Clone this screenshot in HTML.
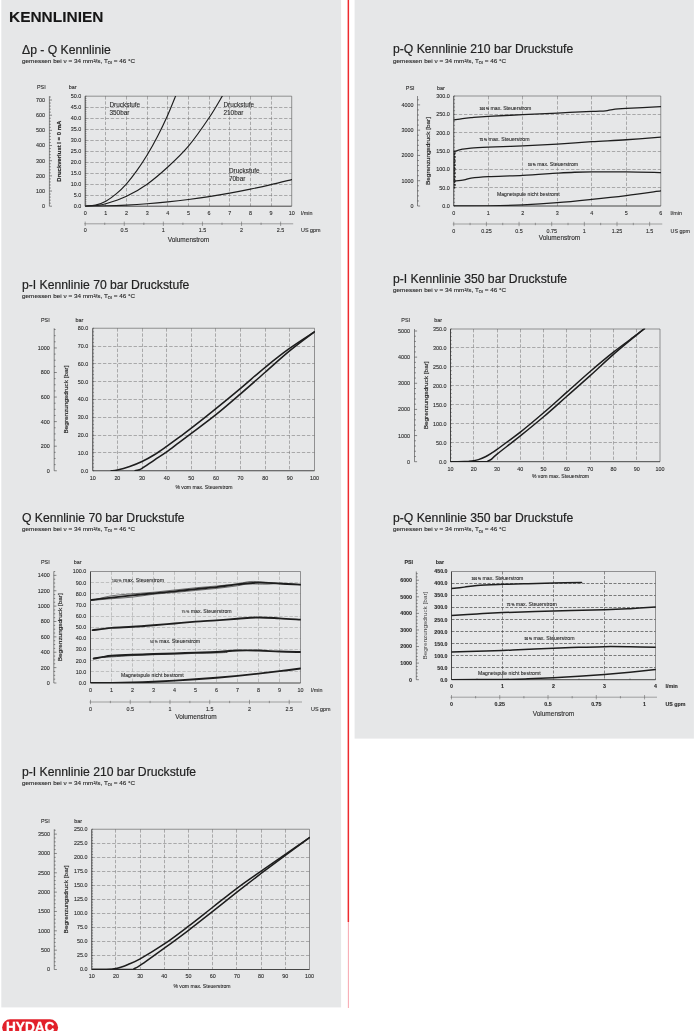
<!DOCTYPE html>
<html lang="de">
<head>
<meta charset="utf-8">
<title>Kennlinien</title>
<style>
html,body{margin:0;padding:0;background:#fff;}
body{width:700px;height:1031px;position:relative;overflow:hidden;font-family:"Liberation Sans",Arial,Helvetica,sans-serif;color:#222;}
h1{position:absolute;left:8.6px;top:8.9px;margin:0;font-size:15.2px;line-height:1;font-weight:bold;color:#161616;white-space:nowrap;transform:scaleX(1.017);transform-origin:0 50%;-webkit-text-stroke:0.1px #161616;}
h2{position:absolute;margin:0;font-size:12.2px;line-height:1;font-weight:normal;color:#222;white-space:nowrap;-webkit-text-stroke:0.18px #222;}
p.sub{position:absolute;margin:0;font-size:5.8px;line-height:1;color:#262626;white-space:nowrap;transform:scaleX(1.1);transform-origin:0 50%;-webkit-text-stroke:0.12px #262626;}
.sb{font-size:3.7px;position:relative;top:1.4px;}
svg#charts,svg#bg{position:absolute;left:0;top:0;}
svg text{font-family:"Liberation Sans",Arial,Helvetica,sans-serif;stroke:#2a2a2a;stroke-width:0.1px;}
#logo{position:absolute;left:1.5px;top:1018.5px;}
</style>
</head>
<body>
<svg id="bg" width="700" height="1031" viewBox="0 0 700 1031">
<rect x="1.3" y="-1" width="339.8" height="1008.4" fill="#e6e7e8"/>
<rect x="354.6" y="-1" width="339.3" height="739.6" fill="#e6e7e8"/>
<rect x="347.6" y="-1" width="1.5" height="923" fill="#ee2a2e"/>
<rect x="347.9" y="922" width="0.8" height="86" fill="#f58f9a"/>
</svg>
<h1>KENNLINIEN</h1>
<h2 style="left:22px;top:43.9px">&#916;p - Q Kennlinie</h2>
<p class="sub" style="left:22px;top:59px">gemessen bei &#957; = 34 mm&#178;/s, T<span class="sb">&#214;l</span> = 46 &#176;C</p>
<h2 style="left:22px;top:278.9px">p-I Kennlinie 70 bar Druckstufe</h2>
<p class="sub" style="left:22px;top:293.8px">gemessen bei &#957; = 34 mm&#178;/s, T<span class="sb">&#214;l</span> = 46 &#176;C</p>
<h2 style="left:22px;top:511.9px">Q Kennlinie 70 bar Druckstufe</h2>
<p class="sub" style="left:22px;top:526.7px">gemessen bei &#957; = 34 mm&#178;/s, T<span class="sb">&#214;l</span> = 46 &#176;C</p>
<h2 style="left:22px;top:765.9px">p-I Kennlinie 210 bar Druckstufe</h2>
<p class="sub" style="left:22px;top:780.5px">gemessen bei &#957; = 34 mm&#178;/s, T<span class="sb">&#214;l</span> = 46 &#176;C</p>
<h2 style="left:393px;top:42.9px">p-Q Kennlinie 210 bar Druckstufe</h2>
<p class="sub" style="left:393px;top:58.5px">gemessen bei &#957; = 34 mm&#178;/s, T<span class="sb">&#214;l</span> = 46 &#176;C</p>
<h2 style="left:393px;top:272.9px">p-I Kennlinie 350 bar Druckstufe</h2>
<p class="sub" style="left:393px;top:287.6px">gemessen bei &#957; = 34 mm&#178;/s, T<span class="sb">&#214;l</span> = 46 &#176;C</p>
<h2 style="left:393px;top:511.9px">p-Q Kennlinie 350 bar Druckstufe</h2>
<p class="sub" style="left:393px;top:527.2px">gemessen bei &#957; = 34 mm&#178;/s, T<span class="sb">&#214;l</span> = 46 &#176;C</p>
<svg id="charts" width="700" height="1031" viewBox="0 0 700 1031">
<g id="c1">
<clipPath id="cpc1"><rect x="85.2" y="95.9" width="206.8" height="110.6"/></clipPath>
<path d="M85.2 195.5H291.7M85.2 184.5H291.7M85.2 173.5H291.7M85.2 162.5H291.7M85.2 151.5H291.7M85.2 140.5H291.7M85.2 129.5H291.7M85.2 118.5H291.7M85.2 107.5H291.7M105.5 96.2V206.2M126.5 96.2V206.2M147.5 96.2V206.2M167.5 96.2V206.2M188.5 96.2V206.2M209.5 96.2V206.2M229.5 96.2V206.2M250.5 96.2V206.2M271.5 96.2V206.2" fill="none" stroke="#767676" stroke-width="0.55" stroke-dasharray="3.4 1.7"/>
<path d="M85.2 96.2H291.7V206.2" fill="none" stroke="#555" stroke-width="0.6"/>
<path d="M85.2 96.2V206.2H291.7" fill="none" stroke="#333" stroke-width="0.9"/>
<path d="M85.2 206.2h1.3M85.2 204h1.3M85.2 201.8h1.3M85.2 199.6h1.3M85.2 197.4h1.3M85.2 195.2h1.3M85.2 193h1.3M85.2 190.8h1.3M85.2 188.6h1.3M85.2 186.4h1.3M85.2 184.2h1.3M85.2 182h1.3M85.2 179.8h1.3M85.2 177.6h1.3M85.2 175.4h1.3M85.2 173.2h1.3M85.2 171h1.3M85.2 168.8h1.3M85.2 166.6h1.3M85.2 164.4h1.3M85.2 162.2h1.3M85.2 160h1.3M85.2 157.8h1.3M85.2 155.6h1.3M85.2 153.4h1.3M85.2 151.2h1.3M85.2 149h1.3M85.2 146.8h1.3M85.2 144.6h1.3M85.2 142.4h1.3M85.2 140.2h1.3M85.2 138h1.3M85.2 135.8h1.3M85.2 133.6h1.3M85.2 131.4h1.3M85.2 129.2h1.3M85.2 127h1.3M85.2 124.8h1.3M85.2 122.6h1.3M85.2 120.4h1.3M85.2 118.2h1.3M85.2 116h1.3M85.2 113.8h1.3M85.2 111.6h1.3M85.2 109.4h1.3M85.2 107.2h1.3M85.2 105h1.3M85.2 102.8h1.3M85.2 100.6h1.3M85.2 98.4h1.3M85.2 96.2h1.3" fill="none" stroke="#333" stroke-width="0.45"/>
<g font-size="5.4" text-anchor="end" fill="#2a2a2a">
<text x="81.2" y="208.14">0.0</text>
<text x="81.2" y="197.14">5.0</text>
<text x="81.2" y="186.14">10.0</text>
<text x="81.2" y="175.14">15.0</text>
<text x="81.2" y="164.14">20.0</text>
<text x="81.2" y="153.14">25.0</text>
<text x="81.2" y="142.14">30.0</text>
<text x="81.2" y="131.14">35.0</text>
<text x="81.2" y="120.14">40.0</text>
<text x="81.2" y="109.14">45.0</text>
<text x="81.2" y="98.14">50.0</text>
<text x="45.1" y="208.14">0</text>
<text x="45.1" y="192.98">100</text>
<text x="45.1" y="177.81">200</text>
<text x="45.1" y="162.64">300</text>
<text x="45.1" y="147.47">400</text>
<text x="45.1" y="132.3">500</text>
<text x="45.1" y="117.13">600</text>
<text x="45.1" y="101.96">700</text>
</g>
<path d="M49.4 96.2V206.2M49.4 206.2h2.6M49.4 203.17h1.4M49.4 200.13h1.4M49.4 197.1h1.4M49.4 194.07h1.4M49.4 191.03h2.6M49.4 188h1.4M49.4 184.96h1.4M49.4 181.93h1.4M49.4 178.9h1.4M49.4 175.86h2.6M49.4 172.83h1.4M49.4 169.8h1.4M49.4 166.76h1.4M49.4 163.73h1.4M49.4 160.69h2.6M49.4 157.66h1.4M49.4 154.63h1.4M49.4 151.59h1.4M49.4 148.56h1.4M49.4 145.53h2.6M49.4 142.49h1.4M49.4 139.46h1.4M49.4 136.43h1.4M49.4 133.39h1.4M49.4 130.36h2.6M49.4 127.32h1.4M49.4 124.29h1.4M49.4 121.26h1.4M49.4 118.22h1.4M49.4 115.19h2.6M49.4 112.16h1.4M49.4 109.12h1.4M49.4 106.09h1.4M49.4 103.05h1.4M49.4 100.02h2.6M49.4 96.99h1.4" fill="none" stroke="#333" stroke-width="0.55"/>
<g font-size="5.4" fill="#2a2a2a">
<text x="37" y="88.94">PSI</text>
<text x="68.8" y="88.94">bar</text>
</g>
<text transform="translate(61.1 151.2) rotate(-90)" font-size="5.94" text-anchor="middle" fill="#1c1c1c" style="stroke-width:0.16px" font-weight="bold">Druckverlust I = 0 mA</text>
<g font-size="5.4" text-anchor="middle" fill="#2a2a2a">
<text x="85.2" y="214.94">0</text>
<text x="105.85" y="214.94">1</text>
<text x="126.5" y="214.94">2</text>
<text x="147.15" y="214.94">3</text>
<text x="167.8" y="214.94">4</text>
<text x="188.45" y="214.94">5</text>
<text x="209.1" y="214.94">6</text>
<text x="229.75" y="214.94">7</text>
<text x="250.4" y="214.94">8</text>
<text x="271.05" y="214.94">9</text>
<text x="291.7" y="214.94">10</text>
</g>
<text x="301" y="214.94" font-size="5.4" fill="#2a2a2a">l/min</text>
<path d="M84.2 223.8H293.2M85.2 221.6v4.4M104.74 222.6v2.4M124.28 221.6v4.4M143.83 222.6v2.4M163.37 221.6v4.4M182.91 222.6v2.4M202.45 221.6v4.4M222 222.6v2.4M241.54 221.6v4.4M261.08 222.6v2.4M280.62 221.6v4.4" fill="none" stroke="#555" stroke-width="0.5"/>
<g font-size="5.4" text-anchor="middle" fill="#2a2a2a"><text x="85.2" y="231.94">0</text><text x="124.28" y="231.94">0.5</text><text x="163.37" y="231.94">1</text><text x="202.45" y="231.94">1.5</text><text x="241.54" y="231.94">2</text><text x="280.62" y="231.94">2.5</text></g>
<text x="301" y="231.94" font-size="5.4" fill="#2a2a2a">US gpm</text>
<text x="188.5" y="241.94" font-size="6.5" text-anchor="middle" fill="#2a2a2a">Volumenstrom</text>
<g clip-path="url(#cpc1)" fill="none" stroke="#1e1e1e" stroke-linecap="round" stroke-linejoin="round">
<path d="M85.2 206.2 C86.92 206.02 92.08 205.94 95.53 205.1 C98.97 204.26 102.41 203.01 105.85 201.14 C109.29 199.27 112.73 196.78 116.17 193.88 C119.62 190.98 123.06 187.65 126.5 183.76 C129.94 179.87 133.38 175.36 136.82 170.56 C140.27 165.76 143.71 160.62 147.15 154.94 C150.59 149.26 154.03 143.13 157.47 136.46 C160.92 129.79 164.7 121.83 167.8 114.9 C170.9 107.97 174.68 98.22 176.06 94.88" stroke-width="1.15"/>
<path d="M85.2 206.2 C86.92 206.09 92.08 205.94 95.53 205.54 C98.97 205.14 100.69 205.32 105.85 203.78 C111.01 202.24 119.62 199.56 126.5 196.3 C133.38 193.04 140.27 189.08 147.15 184.2 C154.03 179.32 160.92 173.38 167.8 167.04 C174.68 160.7 181.57 154.35 188.45 146.14 C195.33 137.93 203.39 126.23 209.1 117.76 C214.81 109.29 220.46 99.06 222.73 95.32" stroke-width="1.15"/>
<path d="M85.2 206.2 C88.64 206.16 98.97 206.11 105.85 205.93 C112.73 205.76 119.62 205.49 126.5 205.14 C133.38 204.78 140.27 204.34 147.15 203.8 C154.03 203.27 160.92 202.65 167.8 201.94 C174.68 201.23 181.57 200.43 188.45 199.54 C195.33 198.66 202.22 197.68 209.1 196.62 C215.98 195.55 222.87 194.4 229.75 193.16 C236.63 191.91 243.52 190.58 250.4 189.16 C257.28 187.74 264.17 186.24 271.05 184.64 C277.93 183.04 288.26 180.42 291.7 179.58" stroke-width="1.15"/>
</g>
<text x="109.5" y="107.3" font-size="6.4" fill="#2a2a2a">Druckstufe</text>
<text x="109.5" y="114.7" font-size="6.4" fill="#2a2a2a">350bar</text>
<text x="223.5" y="107.3" font-size="6.4" fill="#2a2a2a">Druckstufe</text>
<text x="223.5" y="114.7" font-size="6.4" fill="#2a2a2a">210bar</text>
<text x="229" y="173.3" font-size="6.4" fill="#2a2a2a">Druckstufe</text>
<text x="229" y="180.7" font-size="6.4" fill="#2a2a2a">70bar</text>
</g>
<g id="c2">
<clipPath id="cpc2"><rect x="92.75" y="327.95" width="222.05" height="143.1"/></clipPath>
<path d="M92.75 452.5H314.5M92.75 435.5H314.5M92.75 417.5H314.5M92.75 399.5H314.5M92.75 381.5H314.5M92.75 363.5H314.5M92.75 346.5H314.5M117.5 328.25V470.75M142.5 328.25V470.75M166.5 328.25V470.75M191.5 328.25V470.75M215.5 328.25V470.75M240.5 328.25V470.75M265.5 328.25V470.75M289.5 328.25V470.75" fill="none" stroke="#767676" stroke-width="0.55" stroke-dasharray="3.4 1.7"/>
<path d="M92.75 328.25H314.5V470.75" fill="none" stroke="#555" stroke-width="0.6"/>
<path d="M92.75 328.25V470.75H314.5" fill="none" stroke="#333" stroke-width="0.9"/>
<path d="M92.75 470.75h1.3M92.75 467.19h1.3M92.75 463.62h1.3M92.75 460.06h1.3M92.75 456.5h1.3M92.75 452.94h1.3M92.75 449.38h1.3M92.75 445.81h1.3M92.75 442.25h1.3M92.75 438.69h1.3M92.75 435.12h1.3M92.75 431.56h1.3M92.75 428h1.3M92.75 424.44h1.3M92.75 420.88h1.3M92.75 417.31h1.3M92.75 413.75h1.3M92.75 410.19h1.3M92.75 406.62h1.3M92.75 403.06h1.3M92.75 399.5h1.3M92.75 395.94h1.3M92.75 392.38h1.3M92.75 388.81h1.3M92.75 385.25h1.3M92.75 381.69h1.3M92.75 378.12h1.3M92.75 374.56h1.3M92.75 371h1.3M92.75 367.44h1.3M92.75 363.88h1.3M92.75 360.31h1.3M92.75 356.75h1.3M92.75 353.19h1.3M92.75 349.62h1.3M92.75 346.06h1.3M92.75 342.5h1.3M92.75 338.94h1.3M92.75 335.38h1.3M92.75 331.81h1.3M92.75 328.25h1.3" fill="none" stroke="#333" stroke-width="0.45"/>
<g font-size="5.4" text-anchor="end" fill="#2a2a2a">
<text x="88.35" y="472.69">0.0</text>
<text x="88.35" y="454.88">10.0</text>
<text x="88.35" y="437.07">20.0</text>
<text x="88.35" y="419.26">30.0</text>
<text x="88.35" y="401.44">40.0</text>
<text x="88.35" y="383.63">50.0</text>
<text x="88.35" y="365.82">60.0</text>
<text x="88.35" y="348.01">70.0</text>
<text x="88.35" y="330.19">80.0</text>
<text x="49.8" y="472.69">0</text>
<text x="49.8" y="448.13">200</text>
<text x="49.8" y="423.57">400</text>
<text x="49.8" y="399.01">600</text>
<text x="49.8" y="374.44">800</text>
<text x="49.8" y="349.88">1000</text>
</g>
<path d="M54.2 328.25V470.75M54.2 470.75h2.6M54.2 464.61h1.4M54.2 458.47h1.4M54.2 452.33h1.4M54.2 446.19h2.6M54.2 440.05h1.4M54.2 433.91h1.4M54.2 427.77h1.4M54.2 421.62h2.6M54.2 415.48h1.4M54.2 409.34h1.4M54.2 403.2h1.4M54.2 397.06h2.6M54.2 390.92h1.4M54.2 384.78h1.4M54.2 378.64h1.4M54.2 372.5h2.6M54.2 366.36h1.4M54.2 360.22h1.4M54.2 354.08h1.4M54.2 347.94h2.6M54.2 341.8h1.4M54.2 335.66h1.4M54.2 329.52h1.4" fill="none" stroke="#333" stroke-width="0.55"/>
<g font-size="5.4" fill="#2a2a2a">
<text x="41" y="321.94">PSI</text>
<text x="75.5" y="321.94">bar</text>
</g>
<text transform="translate(68.32 399.5) rotate(-90)" font-size="6" text-anchor="middle" fill="#1c1c1c" style="stroke-width:0.16px" textLength="68" lengthAdjust="spacingAndGlyphs">Begrenzungsdruck [bar]</text>
<g font-size="5.4" text-anchor="middle" fill="#2a2a2a">
<text x="92.75" y="479.54">10</text>
<text x="117.39" y="479.54">20</text>
<text x="142.03" y="479.54">30</text>
<text x="166.67" y="479.54">40</text>
<text x="191.31" y="479.54">50</text>
<text x="215.94" y="479.54">60</text>
<text x="240.58" y="479.54">70</text>
<text x="265.22" y="479.54">80</text>
<text x="289.86" y="479.54">90</text>
<text x="314.5" y="479.54">100</text>
</g>
<text x="204" y="488.84" font-size="5.1" text-anchor="middle" fill="#2a2a2a">% vom max. Steuerstrom</text>
<g clip-path="url(#cpc2)" fill="none" stroke="#1e1e1e" stroke-linecap="round" stroke-linejoin="round">
<path d="M111.23 470.75 C112.26 470.63 114.31 470.75 117.39 470.04 C120.47 469.33 125.6 467.9 129.71 466.48 C133.81 465.05 137.92 463.45 142.03 461.49 C146.13 459.53 150.24 457.24 154.35 454.72 C158.45 452.2 162.56 449.23 166.67 446.35 C170.77 443.47 174.88 440.47 178.99 437.44 C183.09 434.41 185.15 432.99 191.31 428.18 C197.47 423.37 207.73 415.23 215.94 408.58 C224.16 401.93 232.37 395.17 240.58 388.28 C248.8 381.39 257.01 373.94 265.22 367.26 C273.44 360.58 281.65 354.11 289.86 348.2 C298.07 342.29 310.39 334.54 314.5 331.81" stroke-width="1.6"/>
<path d="M135.13 470.75 C135.66 470.63 137.18 470.42 138.33 470.04 C139.48 469.65 139.36 470.1 142.03 468.43 C144.7 466.77 150.24 462.82 154.35 460.06 C158.45 457.3 162.56 454.78 166.67 451.87 C170.77 448.96 174.88 445.69 178.99 442.61 C183.09 439.52 185.15 438 191.31 433.34 C197.47 428.68 207.73 421.23 215.94 414.64 C224.16 408.05 232.37 400.87 240.58 393.8 C248.8 386.73 257.01 379.43 265.22 372.25 C273.44 365.06 281.65 357.43 289.86 350.69 C298.07 343.95 310.39 334.96 314.5 331.81" stroke-width="1.6"/>
</g>
</g>
<g id="c3">
<clipPath id="cpc3"><rect x="90.5" y="571.2" width="210.3" height="112.1"/></clipPath>
<path d="M90.5 671.5H300.5M90.5 660.5H300.5M90.5 649.5H300.5M90.5 638.5H300.5M90.5 627.5H300.5M90.5 616.5H300.5M90.5 604.5H300.5M90.5 593.5H300.5M90.5 582.5H300.5M111.5 571.5V683M132.5 571.5V683M153.5 571.5V683M174.5 571.5V683M195.5 571.5V683M216.5 571.5V683M237.5 571.5V683M258.5 571.5V683M279.5 571.5V683" fill="none" stroke="#989898" stroke-width="0.5" stroke-dasharray="3.4 1.7"/>
<path d="M90.5 571.5H300.5V683" fill="none" stroke="#555" stroke-width="0.6"/>
<path d="M90.5 571.5V683H300.5" fill="none" stroke="#333" stroke-width="0.9"/>
<g font-size="5.4" text-anchor="end" fill="#2a2a2a">
<text x="86.3" y="684.94">0.0</text>
<text x="86.3" y="673.79">10.0</text>
<text x="86.3" y="662.64">20.0</text>
<text x="86.3" y="651.49">30.0</text>
<text x="86.3" y="640.34">40.0</text>
<text x="86.3" y="629.19">50.0</text>
<text x="86.3" y="618.04">60.0</text>
<text x="86.3" y="606.89">70.0</text>
<text x="86.3" y="595.74">80.0</text>
<text x="86.3" y="584.59">90.0</text>
<text x="86.3" y="573.44">100.0</text>
<text x="49.8" y="684.94">0</text>
<text x="49.8" y="669.57">200</text>
<text x="49.8" y="654.19">400</text>
<text x="49.8" y="638.82">600</text>
<text x="49.8" y="623.44">800</text>
<text x="49.8" y="608.07">1000</text>
<text x="49.8" y="592.69">1200</text>
<text x="49.8" y="577.32">1400</text>
</g>
<path d="M53.8 571.5V683M53.8 683h2.6M53.8 679.16h1.4M53.8 675.31h1.4M53.8 671.47h1.4M53.8 667.62h2.6M53.8 663.78h1.4M53.8 659.94h1.4M53.8 656.09h1.4M53.8 652.25h2.6M53.8 648.41h1.4M53.8 644.56h1.4M53.8 640.72h1.4M53.8 636.87h2.6M53.8 633.03h1.4M53.8 629.19h1.4M53.8 625.34h1.4M53.8 621.5h2.6M53.8 617.66h1.4M53.8 613.81h1.4M53.8 609.97h1.4M53.8 606.12h2.6M53.8 602.28h1.4M53.8 598.44h1.4M53.8 594.59h1.4M53.8 590.75h2.6M53.8 586.9h1.4M53.8 583.06h1.4M53.8 579.22h1.4M53.8 575.37h2.6M53.8 571.53h1.4" fill="none" stroke="#333" stroke-width="0.55"/>
<g font-size="5.4" fill="#2a2a2a">
<text x="41" y="563.94">PSI</text>
<text x="73.8" y="563.94">bar</text>
</g>
<text transform="translate(61.62 627.25) rotate(-90)" font-size="6" text-anchor="middle" fill="#1c1c1c" style="stroke-width:0.16px" textLength="68" lengthAdjust="spacingAndGlyphs">Begrenzungsdruck [bar]</text>
<g font-size="5.4" text-anchor="middle" fill="#2a2a2a">
<text x="90.5" y="691.94">0</text>
<text x="111.5" y="691.94">1</text>
<text x="132.5" y="691.94">2</text>
<text x="153.5" y="691.94">3</text>
<text x="174.5" y="691.94">4</text>
<text x="195.5" y="691.94">5</text>
<text x="216.5" y="691.94">6</text>
<text x="237.5" y="691.94">7</text>
<text x="258.5" y="691.94">8</text>
<text x="279.5" y="691.94">9</text>
<text x="300.5" y="691.94">10</text>
</g>
<text x="311" y="691.94" font-size="5.4" fill="#2a2a2a">l/min</text>
<path d="M89.5 702H302M90.5 699.8v4.4M110.37 700.8v2.4M130.25 699.8v4.4M150.12 700.8v2.4M169.99 699.8v4.4M189.87 700.8v2.4M209.74 699.8v4.4M229.61 700.8v2.4M249.49 699.8v4.4M269.36 700.8v2.4M289.23 699.8v4.4" fill="none" stroke="#555" stroke-width="0.5"/>
<g font-size="5.4" text-anchor="middle" fill="#2a2a2a"><text x="90.5" y="710.54">0</text><text x="130.25" y="710.54">0.5</text><text x="169.99" y="710.54">1</text><text x="209.74" y="710.54">1.5</text><text x="249.49" y="710.54">2</text><text x="289.23" y="710.54">2.5</text></g>
<text x="311" y="710.54" font-size="5.4" fill="#2a2a2a">US gpm</text>
<text x="196" y="718.84" font-size="6.5" text-anchor="middle" fill="#2a2a2a">Volumenstrom</text>
<g clip-path="url(#cpc3)" fill="none" stroke="#1e1e1e" stroke-linecap="round" stroke-linejoin="round">
<path d="M91.55 599.93 C94.88 599.54 104.67 598.35 111.5 597.59 C118.33 596.83 125.5 596.07 132.5 595.36 C139.5 594.65 146.5 594.02 153.5 593.35 C160.5 592.69 167.5 592.05 174.5 591.35 C181.5 590.64 188.5 589.82 195.5 589.12 C202.5 588.41 209.5 587.89 216.5 587.11 C223.5 586.33 230.5 585.18 237.5 584.43 C244.5 583.69 251.5 582.8 258.5 582.65 C265.5 582.5 272.5 583.21 279.5 583.54 C286.5 583.88 297 584.47 300.5 584.66" stroke-width="1.9"/>
<path d="M91.55 600.49 C94.88 599.71 104.67 596.92 111.5 595.81 C118.33 594.69 125.5 594.39 132.5 593.8 C139.5 593.21 146.5 592.87 153.5 592.24 C160.5 591.61 167.5 590.75 174.5 590.01 C181.5 589.27 188.5 588.45 195.5 587.78 C202.5 587.11 209.5 586.66 216.5 586 C223.5 585.33 231.9 584.51 237.5 583.76 C243.1 583.02 245.9 581.83 250.1 581.53 C254.3 581.24 257.8 581.65 262.7 581.98 C267.6 582.32 273.2 583.1 279.5 583.54 C285.8 583.99 297 584.47 300.5 584.66" stroke-width="0.6"/>
<path d="M91.55 600.49 C94.88 600.19 104.67 599.26 111.5 598.71 C118.33 598.15 125.5 597.89 132.5 597.14 C139.5 596.4 146.5 595.03 153.5 594.25 C160.5 593.47 167.5 593.09 174.5 592.46 C181.5 591.83 188.5 591.12 195.5 590.46 C202.5 589.79 209.5 589.23 216.5 588.45 C223.5 587.67 232.25 586.52 237.5 585.77 C242.75 585.03 243.1 584.25 248 583.99 C252.9 583.73 261.65 584.29 266.9 584.21 C272.15 584.14 273.9 583.47 279.5 583.54 C285.1 583.62 297 584.47 300.5 584.66" stroke-width="0.6"/>
<path d="M92.6 630.15 C95.75 629.78 104.85 628.48 111.5 627.92 C118.15 627.36 125.5 627.25 132.5 626.8 C139.5 626.36 146.5 625.8 153.5 625.24 C160.5 624.69 167.5 624.05 174.5 623.46 C181.5 622.86 188.5 622.2 195.5 621.67 C202.5 621.15 209.5 620.82 216.5 620.34 C223.5 619.85 230.5 619.26 237.5 618.78 C244.5 618.29 251.5 617.51 258.5 617.44 C265.5 617.36 272.5 617.96 279.5 618.33 C286.5 618.7 297 619.45 300.5 619.67" stroke-width="1.9"/>
<path d="M93.65 658.69 C95.23 658.4 100.12 657.39 103.1 656.91 C106.07 656.43 106.6 656.17 111.5 655.79 C116.4 655.42 125.5 654.98 132.5 654.68 C139.5 654.38 146.5 654.23 153.5 654.01 C160.5 653.79 167.5 653.56 174.5 653.34 C181.5 653.12 188.5 652.89 195.5 652.67 C202.5 652.45 209.5 652.36 216.5 652 C223.5 651.65 230.5 650.8 237.5 650.55 C244.5 650.31 251.5 650.39 258.5 650.55 C265.5 650.72 272.5 651.32 279.5 651.56 C286.5 651.8 297 651.93 300.5 652" stroke-width="1.9"/>
<path d="M93.65 658.02 C96.62 657.84 105.03 657.32 111.5 656.91 C117.97 656.5 125.5 655.94 132.5 655.57 C139.5 655.2 146.5 654.9 153.5 654.68 C160.5 654.46 167.5 654.46 174.5 654.23 C181.5 654.01 188.5 653.56 195.5 653.34 C202.5 653.12 211.25 653.04 216.5 652.89 C221.75 652.75 225.25 652.52 227 652.45" stroke-width="0.7"/>
<path d="M90.5 683 C94 682.99 104.5 683.02 111.5 682.94 C118.5 682.87 125.5 682.75 132.5 682.55 C139.5 682.36 146.5 682.09 153.5 681.77 C160.5 681.46 167.5 681.07 174.5 680.66 C181.5 680.25 188.5 679.8 195.5 679.32 C202.5 678.84 209.5 678.34 216.5 677.76 C223.5 677.18 230.5 676.55 237.5 675.86 C244.5 675.18 251.5 674.41 258.5 673.63 C265.5 672.85 272.5 672.04 279.5 671.18 C286.5 670.33 297 668.95 300.5 668.5" stroke-width="1.9"/>
</g>
<text x="112" y="581.87" font-size="5.2" fill="#2a2a2a"><tspan font-size="3.4">100 %</tspan> max. Steuerstrom</text>
<text x="181.5" y="612.67" font-size="5.2" fill="#2a2a2a"><tspan font-size="3.4">75 %</tspan> max. Steuerstrom</text>
<text x="150" y="643.37" font-size="5.2" fill="#2a2a2a"><tspan font-size="3.4">50 %</tspan> max. Steuerstrom</text>
<text x="121" y="676.84" font-size="5.1" fill="#2a2a2a">Magnetspule nicht bestromt</text>
</g>
<g id="c4">
<clipPath id="cpc4"><rect x="91.75" y="828.95" width="218.05" height="140.85"/></clipPath>
<path d="M91.75 955.5H309.5M91.75 941.5H309.5M91.75 927.5H309.5M91.75 913.5H309.5M91.75 899.5H309.5M91.75 885.5H309.5M91.75 871.5H309.5M91.75 857.5H309.5M91.75 843.5H309.5M115.5 829.25V969.5M140.5 829.25V969.5M164.5 829.25V969.5M188.5 829.25V969.5M212.5 829.25V969.5M236.5 829.25V969.5M261.5 829.25V969.5M285.5 829.25V969.5" fill="none" stroke="#767676" stroke-width="0.55" stroke-dasharray="3.4 1.7"/>
<path d="M91.75 829.25H309.5V969.5" fill="none" stroke="#555" stroke-width="0.6"/>
<path d="M91.75 829.25V969.5H309.5" fill="none" stroke="#333" stroke-width="0.9"/>
<path d="M91.75 969.5h1.3M91.75 966.7h1.3M91.75 963.89h1.3M91.75 961.09h1.3M91.75 958.28h1.3M91.75 955.48h1.3M91.75 952.67h1.3M91.75 949.87h1.3M91.75 947.06h1.3M91.75 944.25h1.3M91.75 941.45h1.3M91.75 938.64h1.3M91.75 935.84h1.3M91.75 933.03h1.3M91.75 930.23h1.3M91.75 927.42h1.3M91.75 924.62h1.3M91.75 921.82h1.3M91.75 919.01h1.3M91.75 916.21h1.3M91.75 913.4h1.3M91.75 910.6h1.3M91.75 907.79h1.3M91.75 904.99h1.3M91.75 902.18h1.3M91.75 899.38h1.3M91.75 896.57h1.3M91.75 893.76h1.3M91.75 890.96h1.3M91.75 888.15h1.3M91.75 885.35h1.3M91.75 882.54h1.3M91.75 879.74h1.3M91.75 876.93h1.3M91.75 874.13h1.3M91.75 871.33h1.3M91.75 868.52h1.3M91.75 865.72h1.3M91.75 862.91h1.3M91.75 860.11h1.3M91.75 857.3h1.3M91.75 854.5h1.3M91.75 851.69h1.3M91.75 848.88h1.3M91.75 846.08h1.3M91.75 843.27h1.3M91.75 840.47h1.3M91.75 837.66h1.3M91.75 834.86h1.3M91.75 832.06h1.3M91.75 829.25h1.3" fill="none" stroke="#333" stroke-width="0.45"/>
<g font-size="5.4" text-anchor="end" fill="#2a2a2a">
<text x="87.55" y="971.44">0.0</text>
<text x="87.55" y="957.42">25.0</text>
<text x="87.55" y="943.39">50.0</text>
<text x="87.55" y="929.37">75.0</text>
<text x="87.55" y="915.34">100.0</text>
<text x="87.55" y="901.32">125.0</text>
<text x="87.55" y="887.29">150.0</text>
<text x="87.55" y="873.27">175.0</text>
<text x="87.55" y="859.24">200.0</text>
<text x="87.55" y="845.22">225.0</text>
<text x="87.55" y="831.19">250.0</text>
<text x="50.05" y="971.44">0</text>
<text x="50.05" y="952.1">500</text>
<text x="50.05" y="932.76">1000</text>
<text x="50.05" y="913.42">1500</text>
<text x="50.05" y="894.08">2000</text>
<text x="50.05" y="874.75">2500</text>
<text x="50.05" y="855.41">3000</text>
<text x="50.05" y="836.07">3500</text>
</g>
<path d="M54.25 829.25V969.5M54.25 969.5h2.6M54.25 965.63h1.4M54.25 961.76h1.4M54.25 957.9h1.4M54.25 954.03h1.4M54.25 950.16h2.6M54.25 946.29h1.4M54.25 942.42h1.4M54.25 938.56h1.4M54.25 934.69h1.4M54.25 930.82h2.6M54.25 926.95h1.4M54.25 923.08h1.4M54.25 919.22h1.4M54.25 915.35h1.4M54.25 911.48h2.6M54.25 907.61h1.4M54.25 903.74h1.4M54.25 899.88h1.4M54.25 896.01h1.4M54.25 892.14h2.6M54.25 888.27h1.4M54.25 884.41h1.4M54.25 880.54h1.4M54.25 876.67h1.4M54.25 872.8h2.6M54.25 868.93h1.4M54.25 865.07h1.4M54.25 861.2h1.4M54.25 857.33h1.4M54.25 853.46h2.6M54.25 849.59h1.4M54.25 845.73h1.4M54.25 841.86h1.4M54.25 837.99h1.4M54.25 834.12h2.6M54.25 830.25h1.4" fill="none" stroke="#333" stroke-width="0.55"/>
<g font-size="5.4" fill="#2a2a2a">
<text x="41" y="822.74">PSI</text>
<text x="74.3" y="822.74">bar</text>
</g>
<text transform="translate(67.92 899.38) rotate(-90)" font-size="6" text-anchor="middle" fill="#1c1c1c" style="stroke-width:0.16px" textLength="68" lengthAdjust="spacingAndGlyphs">Begrenzungsdruck [bar]</text>
<g font-size="5.4" text-anchor="middle" fill="#2a2a2a">
<text x="91.75" y="978.24">10</text>
<text x="115.94" y="978.24">20</text>
<text x="140.14" y="978.24">30</text>
<text x="164.33" y="978.24">40</text>
<text x="188.53" y="978.24">50</text>
<text x="212.72" y="978.24">60</text>
<text x="236.92" y="978.24">70</text>
<text x="261.11" y="978.24">80</text>
<text x="285.31" y="978.24">90</text>
<text x="309.5" y="978.24">100</text>
</g>
<text x="202" y="987.84" font-size="5.1" text-anchor="middle" fill="#2a2a2a">% vom max. Steuerstrom</text>
<g clip-path="url(#cpc4)" fill="none" stroke="#1e1e1e" stroke-linecap="round" stroke-linejoin="round">
<path d="M91.75 969.5 C94.17 969.48 103.04 969.44 106.27 969.39 C109.49 969.33 109.49 969.29 111.11 969.16 C112.72 969.03 114.33 968.92 115.94 968.6 C117.56 968.28 118.77 967.95 120.78 967.26 C122.8 966.56 124.82 965.85 128.04 964.45 C131.27 963.05 134.09 962.25 140.14 958.84 C146.19 955.43 156.27 949.42 164.33 943.97 C172.4 938.53 180.46 932.32 188.53 926.19 C196.59 920.07 204.66 913.54 212.72 907.23 C220.79 900.92 228.85 894.34 236.92 888.32 C244.98 882.31 253.05 876.82 261.11 871.16 C269.18 865.49 277.24 859.91 285.31 854.33 C293.37 848.74 305.47 840.44 309.5 837.66" stroke-width="1.5"/>
<path d="M91.75 969.5 C98.4 969.5 124.61 969.64 131.67 969.5 C138.73 969.36 132.68 969.33 134.09 968.66 C135.5 967.99 135.1 968.87 140.14 965.46 C145.18 962.05 156.27 954.04 164.33 948.18 C172.4 942.32 180.46 936.42 188.53 930.29 C196.59 924.15 204.66 917.73 212.72 911.38 C220.79 905.03 228.85 898.51 236.92 892.19 C244.98 885.87 253.05 879.61 261.11 873.46 C269.18 867.3 277.24 861.25 285.31 855.28 C293.37 849.32 305.47 840.6 309.5 837.66" stroke-width="1.5"/>
</g>
</g>
<g id="c5">
<clipPath id="cpc5"><rect x="453.75" y="95.7" width="207.3" height="110.6"/></clipPath>
<path d="M453.75 187.5H660.75M453.75 169.5H660.75M453.75 151.5H660.75M453.75 132.5H660.75M453.75 114.5H660.75M488.5 96V206M522.5 96V206M557.5 96V206M591.5 96V206M626.5 96V206" fill="none" stroke="#767676" stroke-width="0.55" stroke-dasharray="3.4 1.7"/>
<path d="M453.75 96H660.75V206" fill="none" stroke="#555" stroke-width="0.6"/>
<path d="M453.75 96V206H660.75" fill="none" stroke="#333" stroke-width="0.9"/>
<path d="M453.75 206h1.3M453.75 202.33h1.3M453.75 198.67h1.3M453.75 195h1.3M453.75 191.33h1.3M453.75 187.67h1.3M453.75 184h1.3M453.75 180.33h1.3M453.75 176.67h1.3M453.75 173h1.3M453.75 169.33h1.3M453.75 165.67h1.3M453.75 162h1.3M453.75 158.33h1.3M453.75 154.67h1.3M453.75 151h1.3M453.75 147.33h1.3M453.75 143.67h1.3M453.75 140h1.3M453.75 136.33h1.3M453.75 132.67h1.3M453.75 129h1.3M453.75 125.33h1.3M453.75 121.67h1.3M453.75 118h1.3M453.75 114.33h1.3M453.75 110.67h1.3M453.75 107h1.3M453.75 103.33h1.3M453.75 99.67h1.3M453.75 96h1.3" fill="none" stroke="#333" stroke-width="0.45"/>
<g font-size="5.4" text-anchor="end" fill="#2a2a2a">
<text x="449.75" y="207.94">0.0</text>
<text x="449.75" y="189.61">50.0</text>
<text x="449.75" y="171.28">100.0</text>
<text x="449.75" y="152.94">150.0</text>
<text x="449.75" y="134.61">200.0</text>
<text x="449.75" y="116.28">250.0</text>
<text x="449.75" y="97.94">300.0</text>
<text x="413.5" y="207.94">0</text>
<text x="413.5" y="182.66">1000</text>
<text x="413.5" y="157.38">2000</text>
<text x="413.5" y="132.1">3000</text>
<text x="413.5" y="106.82">4000</text>
</g>
<path d="M417.5 96V206M417.5 206h2.6M417.5 200.94h1.4M417.5 195.89h1.4M417.5 190.83h1.4M417.5 185.78h1.4M417.5 180.72h2.6M417.5 175.66h1.4M417.5 170.61h1.4M417.5 165.55h1.4M417.5 160.49h1.4M417.5 155.44h2.6M417.5 150.38h1.4M417.5 145.33h1.4M417.5 140.27h1.4M417.5 135.21h1.4M417.5 130.16h2.6M417.5 125.1h1.4M417.5 120.05h1.4M417.5 114.99h1.4M417.5 109.93h1.4M417.5 104.88h2.6M417.5 99.82h1.4" fill="none" stroke="#333" stroke-width="0.55"/>
<g font-size="5.4" fill="#2a2a2a">
<text x="405.8" y="89.94">PSI</text>
<text x="437" y="89.94">bar</text>
</g>
<text transform="translate(430.42 151) rotate(-90)" font-size="6" text-anchor="middle" fill="#1c1c1c" style="stroke-width:0.16px" textLength="68" lengthAdjust="spacingAndGlyphs">Begrenzungsdruck [bar]</text>
<g font-size="5.4" text-anchor="middle" fill="#2a2a2a">
<text x="453.75" y="214.94">0</text>
<text x="488.25" y="214.94">1</text>
<text x="522.75" y="214.94">2</text>
<text x="557.25" y="214.94">3</text>
<text x="591.75" y="214.94">4</text>
<text x="626.25" y="214.94">5</text>
<text x="660.75" y="214.94">6</text>
</g>
<text x="670.5" y="214.94" font-size="5.4" fill="#2a2a2a">l/min</text>
<path d="M452.75 224H662.25M453.75 221.8v4.4M470.07 222.8v2.4M486.4 221.8v4.4M502.72 222.8v2.4M519.05 221.8v4.4M535.37 222.8v2.4M551.7 221.8v4.4M568.02 222.8v2.4M584.35 221.8v4.4M600.67 222.8v2.4M617 221.8v4.4M633.32 222.8v2.4M649.64 221.8v4.4" fill="none" stroke="#555" stroke-width="0.5"/>
<g font-size="5.4" text-anchor="middle" fill="#2a2a2a"><text x="453.75" y="232.94">0</text><text x="486.4" y="232.94">0.25</text><text x="519.05" y="232.94">0.5</text><text x="551.7" y="232.94">0.75</text><text x="584.35" y="232.94">1</text><text x="617" y="232.94">1.25</text><text x="649.64" y="232.94">1.5</text></g>
<text x="670.5" y="232.94" font-size="5.4" fill="#2a2a2a">US gpm</text>
<text x="559.5" y="239.94" font-size="6.5" text-anchor="middle" fill="#2a2a2a">Volumenstrom</text>
<g clip-path="url(#cpc5)" fill="none" stroke="#1e1e1e" stroke-linecap="round" stroke-linejoin="round">
<path d="M453.75 119.83 C455.19 119.62 459.5 118.92 462.38 118.55 C465.25 118.18 466.69 118.01 471 117.63 C475.31 117.25 479.62 116.77 488.25 116.28 C496.88 115.79 511.25 115.24 522.75 114.7 C534.25 114.16 545.75 113.6 557.25 113.05 C568.75 112.5 583.7 111.77 591.75 111.4 C599.8 111.03 602.1 111.16 605.55 110.85 C609 110.54 609 109.96 612.45 109.57 C615.9 109.17 618.2 108.96 626.25 108.47 C634.3 107.98 655 106.94 660.75 106.63" stroke-width="1.3"/>
<path d="M453.75 151.73 C454.44 151.49 456.45 150.69 457.89 150.27 C459.33 149.84 460.19 149.53 462.38 149.17 C464.56 148.8 466.69 148.4 471 148.07 C475.31 147.73 479.62 147.52 488.25 147.15 C496.88 146.78 511.25 146.39 522.75 145.87 C534.25 145.35 545.75 144.73 557.25 144.03 C568.75 143.34 580.25 142.4 591.75 141.69 C603.25 140.97 614.75 140.5 626.25 139.74 C637.75 138.99 655 137.6 660.75 137.18" stroke-width="1.3"/>
<path d="M453.75 181.07 C455.48 180.88 461.23 180.46 464.1 179.97 C466.98 179.48 466.98 178.68 471 178.13 C475.02 177.58 479.62 177.12 488.25 176.67 C496.88 176.21 511.25 175.96 522.75 175.38 C534.25 174.8 548.62 173.7 557.25 173.18 C565.88 172.66 568.75 172.48 574.5 172.27 C580.25 172.05 583.12 171.96 591.75 171.9 C600.38 171.84 614.75 171.78 626.25 171.9 C637.75 172.02 655 172.51 660.75 172.63" stroke-width="1.3"/>
<path d="M453.75 206 C459.5 205.97 476.75 206.01 488.25 205.82 C499.75 205.62 511.25 205.35 522.75 204.83 C534.25 204.31 545.75 203.6 557.25 202.7 C568.75 201.8 580.25 200.59 591.75 199.4 C603.25 198.21 614.75 196.96 626.25 195.55 C637.75 194.14 655 191.73 660.75 190.97" stroke-width="1.3"/>
<path d="M454.44 187.67 L454.44 151.73" stroke-width="1.9" stroke-dasharray="0.1 2.7"/>
<path d="M455.13 185.1 L455.13 152.47" stroke-width="1.5" stroke-dasharray="0.1 3.9"/>
<path d="M453.92 181.07 L453.92 151" stroke-width="1.1"/>
</g>
<text x="479.4" y="110.47" font-size="5.2" fill="#2a2a2a"><tspan font-size="3.4" font-weight="bold">100 %</tspan> max. Steuerstrom</text>
<text x="479.4" y="141.07" font-size="5.2" fill="#2a2a2a"><tspan font-size="3.4" font-weight="bold">75 %</tspan> max. Steuerstrom</text>
<text x="528" y="165.87" font-size="5.2" fill="#2a2a2a"><tspan font-size="3.4" font-weight="bold">50 %</tspan> max. Steuerstrom</text>
<text x="497" y="196.44" font-size="5.1" fill="#2a2a2a">Magnetspule nicht bestromt</text>
</g>
<g id="c6">
<clipPath id="cpc6"><rect x="450.5" y="328.7" width="209.8" height="133.3"/></clipPath>
<path d="M450.5 442.5H660M450.5 423.5H660M450.5 404.5H660M450.5 385.5H660M450.5 366.5H660M450.5 347.5H660M473.5 329V461.7M497.5 329V461.7M520.5 329V461.7M543.5 329V461.7M566.5 329V461.7M590.5 329V461.7M613.5 329V461.7M636.5 329V461.7" fill="none" stroke="#767676" stroke-width="0.55" stroke-dasharray="3.4 1.7"/>
<path d="M450.5 329H660V461.7" fill="none" stroke="#555" stroke-width="0.6"/>
<path d="M450.5 329V461.7H660" fill="none" stroke="#333" stroke-width="0.9"/>
<path d="M450.5 461.7h1.3M450.5 457.91h1.3M450.5 454.12h1.3M450.5 450.33h1.3M450.5 446.53h1.3M450.5 442.74h1.3M450.5 438.95h1.3M450.5 435.16h1.3M450.5 431.37h1.3M450.5 427.58h1.3M450.5 423.79h1.3M450.5 419.99h1.3M450.5 416.2h1.3M450.5 412.41h1.3M450.5 408.62h1.3M450.5 404.83h1.3M450.5 401.04h1.3M450.5 397.25h1.3M450.5 393.45h1.3M450.5 389.66h1.3M450.5 385.87h1.3M450.5 382.08h1.3M450.5 378.29h1.3M450.5 374.5h1.3M450.5 370.71h1.3M450.5 366.91h1.3M450.5 363.12h1.3M450.5 359.33h1.3M450.5 355.54h1.3M450.5 351.75h1.3M450.5 347.96h1.3M450.5 344.17h1.3M450.5 340.37h1.3M450.5 336.58h1.3M450.5 332.79h1.3M450.5 329h1.3" fill="none" stroke="#333" stroke-width="0.45"/>
<g font-size="5.4" text-anchor="end" fill="#2a2a2a">
<text x="446.6" y="463.64">0.0</text>
<text x="446.6" y="444.69">50.0</text>
<text x="446.6" y="425.73">100.0</text>
<text x="446.6" y="406.77">150.0</text>
<text x="446.6" y="387.82">200.0</text>
<text x="446.6" y="368.86">250.0</text>
<text x="446.6" y="349.9">300.0</text>
<text x="446.6" y="330.94">350.0</text>
<text x="410.1" y="463.64">0</text>
<text x="410.1" y="437.5">1000</text>
<text x="410.1" y="411.36">2000</text>
<text x="410.1" y="385.22">3000</text>
<text x="410.1" y="359.08">4000</text>
<text x="410.1" y="332.94">5000</text>
</g>
<path d="M414.5 329V461.7M414.5 461.7h2.6M414.5 456.47h1.4M414.5 451.24h1.4M414.5 446.02h1.4M414.5 440.79h1.4M414.5 435.56h2.6M414.5 430.33h1.4M414.5 425.1h1.4M414.5 419.87h1.4M414.5 414.65h1.4M414.5 409.42h2.6M414.5 404.19h1.4M414.5 398.96h1.4M414.5 393.73h1.4M414.5 388.51h1.4M414.5 383.28h2.6M414.5 378.05h1.4M414.5 372.82h1.4M414.5 367.59h1.4M414.5 362.36h1.4M414.5 357.14h2.6M414.5 351.91h1.4M414.5 346.68h1.4M414.5 341.45h1.4M414.5 336.22h1.4M414.5 331h2.6" fill="none" stroke="#333" stroke-width="0.55"/>
<g font-size="5.4" fill="#2a2a2a">
<text x="401.3" y="322.44">PSI</text>
<text x="434.3" y="322.44">bar</text>
</g>
<text transform="translate(427.92 395.35) rotate(-90)" font-size="6" text-anchor="middle" fill="#1c1c1c" style="stroke-width:0.16px" textLength="68" lengthAdjust="spacingAndGlyphs">Begrenzungsdruck [bar]</text>
<g font-size="5.4" text-anchor="middle" fill="#2a2a2a">
<text x="450.5" y="470.54">10</text>
<text x="473.78" y="470.54">20</text>
<text x="497.06" y="470.54">30</text>
<text x="520.33" y="470.54">40</text>
<text x="543.61" y="470.54">50</text>
<text x="566.89" y="470.54">60</text>
<text x="590.17" y="470.54">70</text>
<text x="613.44" y="470.54">80</text>
<text x="636.72" y="470.54">90</text>
<text x="660" y="470.54">100</text>
</g>
<text x="560.5" y="478.44" font-size="5.1" text-anchor="middle" fill="#2a2a2a">% vom max. Steuerstrom</text>
<g clip-path="url(#cpc6)" fill="none" stroke="#1e1e1e" stroke-linecap="round" stroke-linejoin="round">
<path d="M450.5 461.7 C452.83 461.67 461.36 461.61 464.47 461.55 C467.57 461.49 467.57 461.45 469.12 461.32 C470.67 461.19 472.23 461.04 473.78 460.75 C475.33 460.47 476.49 460.28 478.43 459.61 C480.37 458.95 483.28 457.81 485.42 456.77 C487.55 455.73 489.3 454.59 491.24 453.36 C493.18 452.13 492.21 452.92 497.06 449.38 C501.91 445.84 512.57 438.22 520.33 432.13 C528.09 426.03 535.85 419.46 543.61 412.79 C551.37 406.12 559.13 399.02 566.89 392.13 C574.65 385.24 582.41 378.13 590.17 371.46 C597.93 364.8 605.69 358.26 613.44 352.13 C621.2 346 631.56 338.6 636.72 334.69 C641.88 330.77 643.12 329.63 644.4 328.62" stroke-width="1.5"/>
<path d="M450.5 461.7 C456.13 461.7 478.05 461.79 484.25 461.7 C490.46 461.61 486.58 461.51 487.74 461.13 C488.91 460.75 489.68 460.59 491.24 459.43 C492.79 458.26 492.21 458.03 497.06 454.12 C501.91 450.2 512.57 442.14 520.33 435.92 C528.09 429.69 535.85 423.39 543.61 416.77 C551.37 410.16 559.13 403.08 566.89 396.22 C574.65 389.37 582.41 382.6 590.17 375.63 C597.93 368.66 605.69 361.2 613.44 354.4 C621.2 347.61 631.52 339.17 636.72 334.88 C641.92 330.58 643.32 329.66 644.64 328.62" stroke-width="1.5"/>
</g>
</g>
<g id="c7">
<clipPath id="cpc7"><rect x="451.5" y="571.2" width="204.3" height="108.8"/></clipPath>
<path d="M451.5 667.5H655.5M451.5 655.5H655.5M451.5 643.5H655.5M451.5 631.5H655.5M451.5 619.5H655.5M451.5 607.5H655.5M451.5 595.5H655.5M451.5 583.5H655.5" fill="none" stroke="#666" stroke-width="0.85" stroke-dasharray="3.0 1.5"/>
<path d="M502.5 571.5V679.7M553.5 571.5V679.7M604.5 571.5V679.7" fill="none" stroke="#3a3a3a" stroke-width="0.55" stroke-dasharray="3.0 1.5"/>
<path d="M451.5 571.5H655.5V679.7" fill="none" stroke="#555" stroke-width="0.6"/>
<path d="M451.5 571.5V679.7H655.5" fill="none" stroke="#333" stroke-width="0.9"/>
<path d="M451.5 679.7v-1.3M477 679.7v-1.3M502.5 679.7v-1.3M528 679.7v-1.3M553.5 679.7v-1.3M579 679.7v-1.3M604.5 679.7v-1.3M630 679.7v-1.3M655.5 679.7v-1.3" fill="none" stroke="#333" stroke-width="0.45"/>
<g font-size="5.3" text-anchor="end" fill="#2a2a2a" font-weight="bold">
<text x="447.5" y="681.61">0.0</text>
<text x="447.5" y="669.59">50.0</text>
<text x="447.5" y="657.56">100.0</text>
<text x="447.5" y="645.54">150.0</text>
<text x="447.5" y="633.52">200.0</text>
<text x="447.5" y="621.5">250.0</text>
<text x="447.5" y="609.47">300.0</text>
<text x="447.5" y="597.45">350.0</text>
<text x="447.5" y="585.43">400.0</text>
<text x="447.5" y="573.41">450.0</text>
<text x="412" y="681.61">0</text>
<text x="412" y="665.03">1000</text>
<text x="412" y="648.45">2000</text>
<text x="412" y="631.87">3000</text>
<text x="412" y="615.3">4000</text>
<text x="412" y="598.72">5000</text>
<text x="412" y="582.14">6000</text>
</g>
<path d="M416.3 571.5V679.7M416.3 679.7h2.6M416.3 676.38h1.4M416.3 673.07h1.4M416.3 669.75h1.4M416.3 666.44h1.4M416.3 663.12h2.6M416.3 659.81h1.4M416.3 656.49h1.4M416.3 653.18h1.4M416.3 649.86h1.4M416.3 646.54h2.6M416.3 643.23h1.4M416.3 639.91h1.4M416.3 636.6h1.4M416.3 633.28h1.4M416.3 629.97h2.6M416.3 626.65h1.4M416.3 623.33h1.4M416.3 620.02h1.4M416.3 616.7h1.4M416.3 613.39h2.6M416.3 610.07h1.4M416.3 606.76h1.4M416.3 603.44h1.4M416.3 600.13h1.4M416.3 596.81h2.6M416.3 593.49h1.4M416.3 590.18h1.4M416.3 586.86h1.4M416.3 583.55h1.4M416.3 580.23h2.6M416.3 576.92h1.4M416.3 573.6h1.4" fill="none" stroke="#333" stroke-width="0.55"/>
<g font-size="5.3" fill="#2a2a2a" font-weight="bold">
<text x="404.5" y="564.41">PSI</text>
<text x="435.8" y="564.41">bar</text>
</g>
<text transform="translate(426.62 625.6) rotate(-90)" font-size="6" text-anchor="middle" fill="#444" style="stroke-width:0px" textLength="68" lengthAdjust="spacingAndGlyphs">Begrenzungsdruck [bar]</text>
<g font-size="5.3" text-anchor="middle" fill="#2a2a2a" font-weight="bold">
<text x="451.5" y="688.21">0</text>
<text x="502.5" y="688.21">1</text>
<text x="553.5" y="688.21">2</text>
<text x="604.5" y="688.21">3</text>
<text x="655.5" y="688.21">4</text>
</g>
<text x="665.5" y="688.21" font-size="5.3" fill="#2a2a2a" font-weight="bold">l/min</text>
<path d="M450.5 697.2H657M451.5 695v4.4M475.63 696v2.4M499.76 695v4.4M523.9 696v2.4M548.03 695v4.4M572.16 696v2.4M596.29 695v4.4M620.42 696v2.4M644.56 695v4.4" fill="none" stroke="#555" stroke-width="0.5"/>
<g font-size="5.3" text-anchor="middle" fill="#2a2a2a" font-weight="bold"><text x="451.5" y="706.21">0</text><text x="499.76" y="706.21">0.25</text><text x="548.03" y="706.21">0.5</text><text x="596.29" y="706.21">0.75</text><text x="644.56" y="706.21">1</text></g>
<text x="665.5" y="706.21" font-size="5.3" fill="#2a2a2a" font-weight="bold">US gpm</text>
<text x="553.5" y="716.34" font-size="6.5" text-anchor="middle" fill="#2a2a2a">Volumenstrom</text>
<g clip-path="url(#cpc7)" fill="none" stroke="#1e1e1e" stroke-linecap="round" stroke-linejoin="round">
<path d="M451.5 588.57 C453.62 588.33 460 587.65 464.25 587.13 C468.5 586.61 470.62 585.91 477 585.45 C483.38 584.98 494 584.66 502.5 584.36 C511 584.06 519.5 583.86 528 583.64 C536.5 583.42 544.58 583.24 553.5 583.04 C562.42 582.84 576.88 582.54 581.55 582.44" stroke-width="1.5"/>
<path d="M451.5 615.5 C455.75 615.24 468.5 614.42 477 613.94 C485.5 613.46 489.75 613.1 502.5 612.62 C515.25 612.13 536.5 611.49 553.5 611.01 C570.5 610.52 591.75 610.12 604.5 609.73 C617.25 609.34 621.5 609.09 630 608.65 C638.5 608.21 651.25 607.35 655.5 607.09" stroke-width="1.5"/>
<path d="M451.5 652.1 C455.75 651.97 468.5 651.6 477 651.33 C485.5 651.06 496.55 650.73 502.5 650.49 C508.45 650.25 504.2 650.27 512.7 649.88 C521.2 649.5 542.45 648.62 553.5 648.2 C564.55 647.78 570.5 647.62 579 647.36 C587.5 647.1 596 646.74 604.5 646.64 C613 646.54 621.5 646.66 630 646.76 C638.5 646.86 651.25 647.16 655.5 647.24" stroke-width="1.5"/>
<path d="M451.5 679.7 C460 679.66 489.75 679.6 502.5 679.46 C515.25 679.32 519.5 679.14 528 678.86 C536.5 678.58 545 678.2 553.5 677.78 C562 677.36 570.5 676.89 579 676.33 C587.5 675.77 596 675.11 604.5 674.41 C613 673.71 621.5 672.93 630 672.13 C638.5 671.32 651.25 670.02 655.5 669.6" stroke-width="1.5"/>
</g>
<text x="471.4" y="580.37" font-size="5.2" fill="#2a2a2a"><tspan font-size="3.4" font-weight="bold">100 %</tspan> max. Steuerstrom</text>
<text x="506.7" y="605.57" font-size="5.2" fill="#2a2a2a"><tspan font-size="3.4" font-weight="bold">75 %</tspan> max. Steuerstrom</text>
<text x="524.4" y="640.27" font-size="5.2" fill="#2a2a2a"><tspan font-size="3.4" font-weight="bold">50 %</tspan> max. Steuerstrom</text>
<text x="478" y="675.24" font-size="5.1" fill="#2a2a2a">Magnetspule nicht bestromt</text>
</g>
</svg>
<svg id="logo" width="60" height="13" viewBox="0 0 60 13">
<rect x="0.2" y="0.3" width="55.8" height="16" rx="8" ry="8" fill="#e2202a"/>
<text x="28.2" y="12.9" font-size="14.2" font-weight="bold" text-anchor="middle" fill="#fff" textLength="48.6" lengthAdjust="spacingAndGlyphs" style="font-family:'Liberation Sans',Arial,sans-serif;stroke:#fff;stroke-width:0.35px">HYDAC</text>
</svg>
</body>
</html>
